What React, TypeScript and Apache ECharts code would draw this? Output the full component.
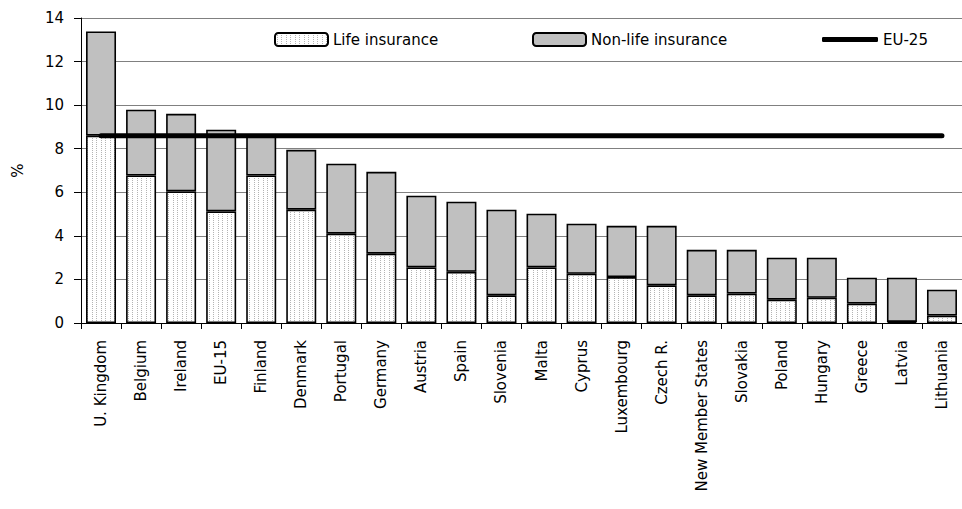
import React, { useEffect, useRef } from "react";
import * as echarts from "echarts";

const categories = [
  "U. Kingdom", "Belgium", "Ireland", "EU-15", "Finland", "Denmark", "Portugal",
  "Germany", "Austria", "Spain", "Slovenia", "Malta", "Cyprus", "Luxembourg",
  "Czech R.", "New Member States", "Slovakia", "Poland", "Hungary", "Greece",
  "Latvia", "Lithuania",
];
const lifeValues = [
  8.6, 6.77, 6.04, 5.12, 6.77, 5.2, 4.1, 3.18, 2.55, 2.35, 1.27, 2.55, 2.26,
  2.11, 1.73, 1.27, 1.35, 1.07, 1.16, 0.89, 0.05, 0.34,
];
const totalValues = [
  13.38, 9.79, 9.6, 8.87, 8.6, 7.95, 7.31, 6.94, 5.84, 5.57, 5.2, 5.02, 4.56,
  4.46, 4.46, 3.36, 3.36, 3.0, 3.0, 2.08, 2.08, 1.53,
];
const nonLifeValues = totalValues.map((t, i) => +(t - lifeValues[i]).toFixed(2));
const eu25Value = 8.6;
const eu25Values = categories.map(() => eu25Value);
const yTicks = { min: 0, max: 14, interval: 2 };

const FONT = "DejaVu Sans";

function makePattern(): HTMLCanvasElement {
  const c = document.createElement("canvas");
  c.width = 9;
  c.height = 2;
  const ctx = c.getContext("2d")!;
  ctx.fillStyle = "#ffffff";
  ctx.fillRect(0, 0, 9, 2);
  ctx.fillStyle = "#b4b4b4";
  ctx.fillRect(2, 0, 1, 1);
  ctx.fillRect(6, 0, 1, 1);
  return c;
}

export default function App() {
  const ref = useRef<HTMLDivElement>(null);
  useEffect(() => {
    if (!ref.current) return;
    const chart = echarts.init(ref.current, undefined, { renderer: "svg" });
    const pattern = { image: makePattern(), repeat: "repeat" };
    const legendBase = {
      top: 32,
      padding: 0,
      itemWidth: 53,
      itemHeight: 13,
      itemGap: 0,
      textStyle: { fontFamily: FONT, fontSize: 15, color: "#000" },
      selectedMode: false,
    };
    chart.setOption({
      animation: false,
      backgroundColor: "#ffffff",
      legend: [
        { ...legendBase, left: 274, data: ["Life insurance"] },
        { ...legendBase, left: 532, data: ["Non-life insurance"] },
        {
          ...legendBase,
          left: 822,
          itemWidth: 56,
          itemHeight: 5,
          data: [{ name: "EU-25", icon: "roundRect" }],
          itemStyle: { color: "#000" },
        },
      ],
      grid: { left: 81, top: 18, width: 891, height: 305, containLabel: false },
      xAxis: {
        type: "category",
        data: categories,
        boundaryGap: true,
        axisLine: { show: true, lineStyle: { color: "#000", width: 1 } },
        axisTick: { show: true, length: 6, interval: 0, lineStyle: { color: "#000" } },
        axisLabel: {
          interval: 0,
          rotate: 90,
          margin: 17,
          fontFamily: FONT,
          fontSize: 15,
          color: "#000",
        },
        splitLine: { show: false },
      },
      yAxis: {
        type: "value",
        min: yTicks.min,
        max: yTicks.max,
        interval: yTicks.interval,
        name: "%",
        nameLocation: "middle",
        nameRotate: 90,
        nameGap: 56,
        nameTextStyle: { fontFamily: FONT, fontSize: 15, color: "#000" },
        axisLine: { show: true, lineStyle: { color: "#000", width: 1 } },
        axisTick: { show: true, length: 7, lineStyle: { color: "#000" } },
        axisLabel: { fontFamily: FONT, fontSize: 15, color: "#000", margin: 17 },
        splitLine: { show: true, lineStyle: { color: "#808080", width: 1 } },
      },
      series: [
        {
          name: "Life insurance",
          type: "bar",
          stack: "ins",
          barWidth: 30,
          data: lifeValues,
          itemStyle: { color: pattern, borderColor: "#000", borderWidth: 1.6 },
          z: 2,
        },
        {
          name: "Non-life insurance",
          type: "bar",
          stack: "ins",
          barWidth: 30,
          data: nonLifeValues,
          itemStyle: { color: "#c0c0c0", borderColor: "#000", borderWidth: 1.6 },
          z: 2,
        },
        {
          name: "EU-25",
          type: "line",
          data: eu25Values,
          symbol: "none",
          showSymbol: false,
          lineStyle: { color: "#000", width: 5, cap: "round" },
          itemStyle: { color: "#000" },
          z: 5,
        },
      ],
    });
    return () => chart.dispose();
  }, []);
  return (
    <div
      ref={ref}
      style={{ position: "fixed", left: 0, top: 0, width: 962, height: 509 }}
    />
  );
}
